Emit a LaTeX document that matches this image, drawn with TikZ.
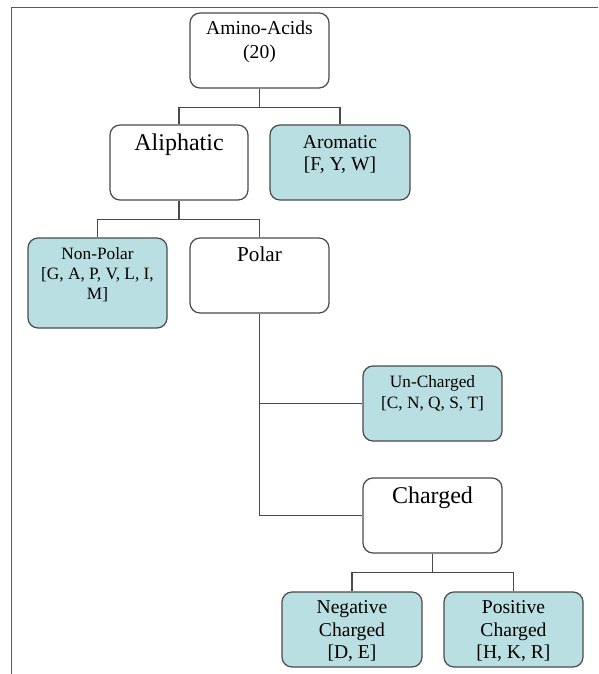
\documentclass[tikz,border=0pt]{standalone}
\usepackage{fontspec}
\setmainfont{Liberation Serif}
\definecolor{boxfill}{HTML}{BADFE3}
\definecolor{edge}{HTML}{4A4A4A}
\definecolor{framec}{HTML}{5A5A5A}
\tikzset{
  box/.style={draw=edge, line width=1.2pt, rounded corners=10pt, inner sep=0pt},
  blue/.style={box, fill=boxfill},
  wire/.style={draw=edge, line width=1.2pt},
  txt/.style={anchor=base, inner sep=0pt, text=black},
  s17/.style={font=\fontsize{17.3}{20}\selectfont},
  s19/.style={font=\fontsize{19.6}{23}\selectfont},
  s21/.style={font=\fontsize{21.2}{25}\selectfont},
  s24/.style={font=\fontsize{24}{28}\selectfont},
}
\begin{document}
\begin{tikzpicture}[x=1pt,y=-1pt]
\useasboundingbox (0,0) rectangle (598,674);
\draw[framec, line width=1pt] (11,674) -- (11,7.5) -- (598,7.5);

% boxes
\node[box,  minimum width=139, minimum height=75] (amino)   at (259.5,50.5) {};
\node[box,  minimum width=138, minimum height=75] (aliph)   at (179,162.5) {};
\node[blue, minimum width=140, minimum height=75] (arom)    at (340,162.5) {};
\node[blue, minimum width=139, minimum height=90] (nonpol)  at (97.5,283) {};
\node[box,  minimum width=139, minimum height=75] (polar)   at (259.5,275.5) {};
\node[blue, minimum width=139, minimum height=75] (unch)    at (432.5,403.5) {};
\node[box,  minimum width=139, minimum height=75] (charged) at (432.5,515.5) {};
\node[blue, minimum width=140, minimum height=75] (neg)     at (352,629.5) {};
\node[blue, minimum width=139, minimum height=75] (pos)     at (513.5,629.5) {};

% texts
\node[txt,s19] (t1)  at (259.5,35) {Amino-Acids};
\node[txt,s19] (t2)  at (259.5,59) {(20)};
\node[txt,s24] (t3)  at (179,150) {Aliphatic};
\node[txt,s19] (t4)  at (340,148) {Aromatic};
\node[txt,s19] (t5)  at (340,170) {[F, Y, W]};
\node[txt,s17] (t6)  at (97.5,259) {Non-Polar};
\node[txt,s17] (t7)  at (97.5,279) {[G, A, P, V, L, I,};
\node[txt,s17] (t8)  at (97.5,299) {M]};
\node[txt,s21] (t9)  at (259.5,261) {Polar};
\node[txt,s17] (t10) at (432.5,387) {Un-Charged};
\node[txt,s17] (t11) at (432.5,408) {[C, N, Q, S, T]};
\node[txt,s24] (t12) at (432.5,503) {Charged};
\node[txt,s19] (t13) at (352,613) {Negative};
\node[txt,s19] (t14) at (352,636) {Charged};
\node[txt,s19] (t15) at (352,658) {[D, E]};
\node[txt,s19] (t16) at (513.5,613) {Positive};
\node[txt,s19] (t17) at (513.5,636) {Charged};
\node[txt,s19] (t18) at (513.5,658) {[H, K, R]};

% connectors
\path (amino.south) ++(0,19) coordinate (j1);
\path (aliph.south) ++(0,19) coordinate (j2);
\path (charged.south) ++(0,19) coordinate (j3);
\draw[wire] (amino.south) -- (j1);
\draw[wire] (aliph.north) |- (j1) -| (arom.north);
\draw[wire] (aliph.south) -- (j2);
\draw[wire] (nonpol.north) |- (j2) -| (polar.north);
\draw[wire] (polar.south) |- (charged.west);
\draw[wire] (polar.south |- unch.west) -- (unch.west);
\draw[wire] (charged.south) -- (j3);
\draw[wire] (neg.north) |- (j3) -| (pos.north);
\end{tikzpicture}
\end{document}
